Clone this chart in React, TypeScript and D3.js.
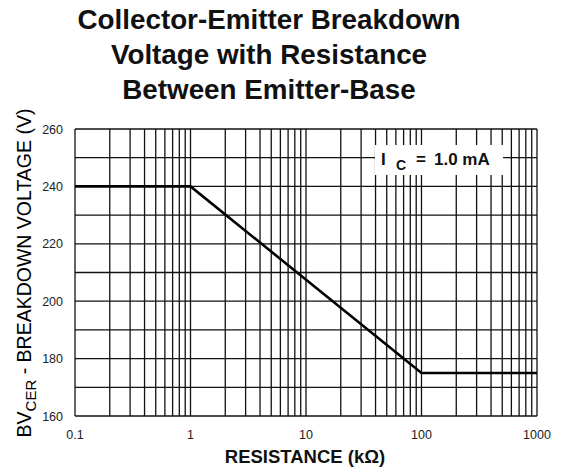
import React from "react"
import * as d3 from "d3"

// Breakdown voltage vs emitter-base resistance
const resistance = [0.1, 1, 100, 1000] // kΩ
const voltage = [240, 240, 175, 175] // V
const xTicks = [0.1, 1, 10, 100, 1000]
const xTickLabels = ["0.1", "1", "10", "100", "1000"]
const yTicks = [160, 180, 200, 220, 240, 260]
const titleLines = [
  "Collector-Emitter Breakdown",
  "Voltage with Resistance",
  "Between Emitter-Base",
]

const W = 561
const H = 470
const margin = { top: 129, right: 24, bottom: 54, left: 75 }

const App = () => {
  const x = d3
    .scaleLog()
    .domain([0.1, 1000])
    .range([margin.left, W - margin.right])
  const y = d3
    .scaleLinear()
    .domain([160, 260])
    .range([H - margin.bottom, margin.top])

  // minor grid: 1..9 per decade
  const xGrid: number[] = []
  for (let e = -1; e < 3; e++) {
    for (let k = 1; k < 10; k++) xGrid.push(k * Math.pow(10, e))
  }
  xGrid.push(1000)
  const yGrid = d3.range(160, 261, 10)

  const line = d3
    .line<number>()
    .x((d, i) => x(resistance[i]))
    .y((d) => y(d))

  const font = "'Liberation Sans', Arial, Helvetica, sans-serif"
  const [x0, x1] = x.range()
  const [y0, y1] = y.range()

  return (
    <svg
      width={W}
      height={H}
      style={{ position: "absolute", left: 0, top: 0, background: "#fff" }}
      fontFamily={font}
    >
      {/* title */}
      {titleLines.map((t, i) => (
        <text
          key={t}
          x={269}
          y={29 + i * 35}
          textAnchor="middle"
          fontSize={27.8}
          fontWeight="bold"
          fill="#111"
        >
          {t}
        </text>
      ))}

      {/* grid */}
      <g stroke="#111" strokeWidth={1.3}>
        {xGrid.map((v) => (
          <line key={"x" + v} x1={x(v)} x2={x(v)} y1={y1} y2={y0} />
        ))}
        {yGrid.map((v) => (
          <line key={"y" + v} x1={x0} x2={x1} y1={y(v)} y2={y(v)} />
        ))}
      </g>

      {/* annotation box */}
      <rect x={375} y={145} width={128} height={30} fill="#fff" />
      <g fontWeight="bold" fill="#111" fontSize={17}>
        <text x={381} y={165}>I</text>
        <text x={396} y={170} fontSize={14}>C</text>
        <text x={416} y={165}>=</text>
        <text x={434} y={165}>1.0 mA</text>
      </g>

      {/* data */}
      <path
        d={line(voltage) ?? ""}
        fill="none"
        stroke="#000"
        strokeWidth={2.6}
      />

      {/* y ticks */}
      {yTicks.map((v) => (
        <text
          key={v}
          x={63}
          y={y(v) + 4.5}
          textAnchor="end"
          fontSize={12.5}
          fill="#222"
        >
          {v}
        </text>
      ))}

      {/* x ticks */}
      {xTicks.map((v, i) => (
        <text
          key={v}
          x={x(v)}
          y={439}
          textAnchor="middle"
          fontSize={12.5}
          fill="#222"
        >
          {xTickLabels[i]}
        </text>
      ))}

      {/* axis titles */}
      <text
        x={305}
        y={463}
        textAnchor="middle"
        fontSize={18.5}
        fontWeight="bold"
        fill="#111"
      >
        RESISTANCE (kΩ)
      </text>
      <text
        transform={`translate(31, ${273}) rotate(-90)`}
        textAnchor="middle"
        fontSize={19.5}
        fill="#000"
      >
        BV
        <tspan fontSize={15} dy={5}>CER</tspan>
        <tspan dy={-5}> - BREAKDOWN VOLTAGE (V)</tspan>
      </text>
    </svg>
  )
}

export default App
